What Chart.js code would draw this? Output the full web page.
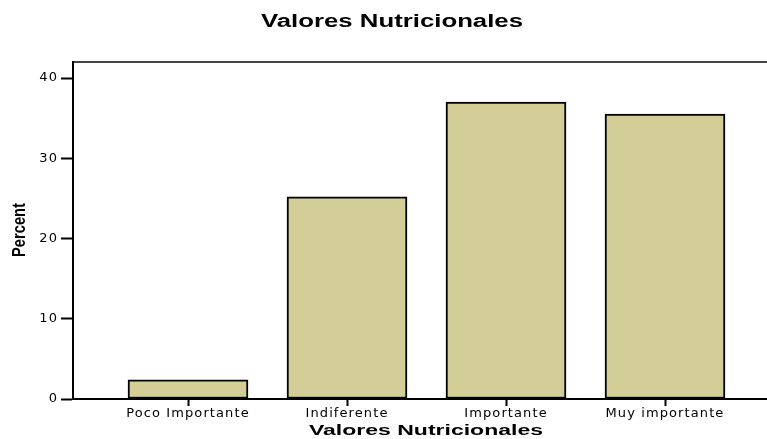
<!DOCTYPE html>
<html>
<head>
<meta charset="utf-8">
<script src="https://cdn.jsdelivr.net/npm/chart.js@4"></script>
<style>
  body { margin: 0; background: #fff; }
  #wrap { width: 767px; height: 439px; position: relative; }
</style>
</head>
<body>
<div id="wrap"><canvas id="myChart"></canvas></div>
<script>
const categories = ["Poco Importante", "Indiferente", "Importante", "Muy importante"];
const percents = [2.4, 25.2, 37.0, 35.5];
const yTicks = [0, 10, 20, 30, 40];

const barColor = "rgb(211, 206, 152)";

// draws text squeezed/stretched to a given width, optionally rotated
function drawStretched(ctx, text, x, y, width, font, angle) {
  ctx.save();
  ctx.font = font;
  const sx = width / ctx.measureText(text).width;
  ctx.translate(x, y);
  ctx.rotate(angle);
  ctx.scale(sx, 1);
  ctx.textAlign = "center";
  ctx.textBaseline = "alphabetic";
  ctx.fillText(text, 0, 0);
  ctx.restore();
}

const titles = {
  id: "titles",
  beforeDraw(chart) {
    chart.ctx.letterSpacing = "1.1px";
  },
  afterDraw(chart) {
    const ctx = chart.ctx;
    ctx.save();
    ctx.letterSpacing = "0px";
    ctx.fillStyle = "#000";
    drawStretched(ctx, "Valores Nutricionales", 392, 27, 262, 'bold 18px "Liberation Sans"', 0);
    drawStretched(ctx, "Valores Nutricionales", 426, 435, 234, 'bold 15px "Liberation Sans"', 0);
    drawStretched(ctx, "Percent", 25, 230, 54, 'bold 19px "Liberation Sans"', -Math.PI / 2);
    ctx.restore();
  },
};

const ctx = document.getElementById("myChart").getContext("2d");

new Chart(ctx, {
  type: "bar",
  data: {
    datasets: [
      {
        label: "Percent",
        data: percents.map((v, i) => ({ x: i, y: v })),
        backgroundColor: barColor,
        borderColor: "#000",
        borderWidth: 2,
        borderSkipped: false,
        barThickness: 120,
      },
    ],
  },
  options: {
    responsive: true,
    maintainAspectRatio: false,
    animation: false,
    layout: { padding: 0 },
    plugins: {
      legend: { display: false },
      tooltip: { enabled: false },
    },
    scales: {
      x: {
        type: "linear",
        position: "bottom",
        min: -0.7233,
        max: 3.6415,
        offset: false,
        afterBuildTicks: (scale) => {
          scale.ticks = categories.map((c, i) => ({ value: i }));
        },
        afterFit: (scale) => {
          scale.height = 40;
        },
        ticks: {
          callback: (value) => categories[value],
          color: "#000",
          font: { family: "DejaVu Sans", size: 13 },
          padding: 0,
          maxRotation: 0,
          autoSkip: false,
        },
        grid: {
          offset: false,
          drawOnChartArea: false,
          tickLength: 7,
          tickWidth: 2,
          tickColor: "#000",
        },
        border: { color: "#000", width: 2 },
      },
      x2: {
        type: "linear",
        position: "top",
        min: 0,
        max: 1,
        afterFit: (scale) => {
          scale.height = 62;
        },
        ticks: { display: false },
        grid: { drawOnChartArea: false, drawTicks: false },
        border: { color: "#444", width: 2 },
      },
      y: {
        min: 0,
        max: 42,
        afterBuildTicks: (scale) => {
          scale.ticks = yTicks.map((v) => ({ value: v }));
        },
        afterFit: (scale) => {
          scale.width = 73;
        },
        ticks: {
          color: "#000",
          font: { family: "DejaVu Sans", size: 13 },
          padding: 3,
        },
        grid: {
          drawOnChartArea: false,
          tickLength: 12,
          tickWidth: 2,
          tickColor: "#000",
        },
        border: { color: "#000", width: 2 },
      },
    },
  },
  plugins: [titles],
});
</script>
</body>
</html>
